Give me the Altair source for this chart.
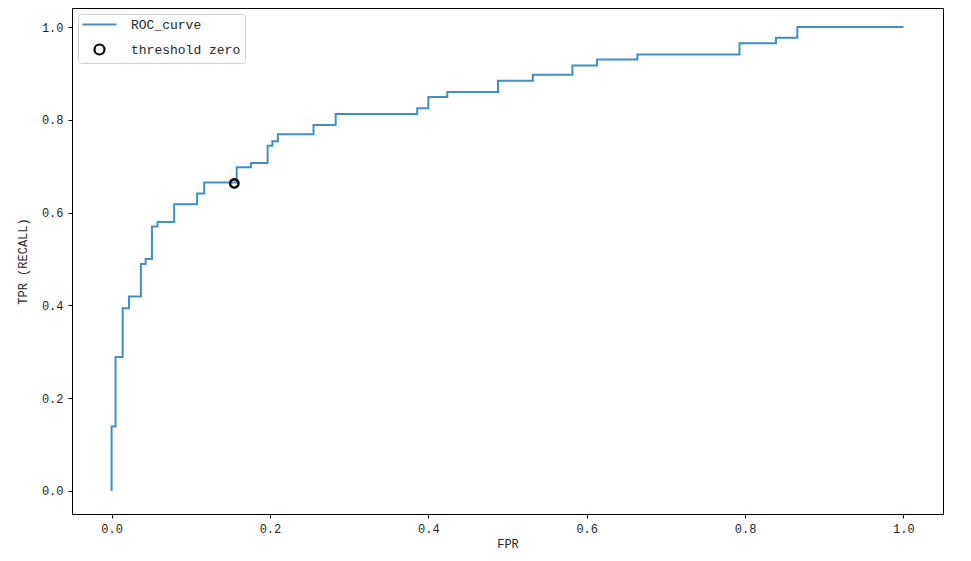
import altair as alt
import pandas as pd

# ROC curve breakpoints (fpr where the curve jumps, new tpr)
fpr_steps = [0.0, 0.0, 0.005, 0.014, 0.022, 0.037, 0.043, 0.051, 0.058, 0.079,
             0.108, 0.117, 0.158, 0.176, 0.197, 0.203, 0.210, 0.255, 0.283, 0.386,
             0.400, 0.424, 0.488, 0.532, 0.582, 0.613, 0.664, 0.793, 0.839, 0.866, 1.0]
tpr_steps = [0.0, 0.139, 0.289, 0.394, 0.419, 0.489, 0.500, 0.570, 0.580, 0.618,
             0.641, 0.665, 0.698, 0.707, 0.744, 0.754, 0.769, 0.789, 0.8125, 0.825,
             0.849, 0.860, 0.884, 0.897, 0.917, 0.930, 0.941, 0.965, 0.977, 1.0, 1.0]

thr_fpr = [0.155]
thr_tpr = [0.663]

series_names = ["ROC_curve", "threshold zero"]
x_ticks = [0.0, 0.2, 0.4, 0.6, 0.8, 1.0]
y_ticks = [0.0, 0.2, 0.4, 0.6, 0.8, 1.0]

roc = pd.DataFrame({"fpr": fpr_steps, "tpr": tpr_steps,
                    "series": series_names[0], "idx": list(range(len(fpr_steps)))})
thr = pd.DataFrame({"fpr": thr_fpr, "tpr": thr_tpr, "series": [series_names[1]]})

FONT = "Liberation Mono"
TXT = "#262626"

xscale = alt.Scale(domain=[-0.05, 1.05], nice=False, zero=False)
yscale = alt.Scale(domain=[-0.0496, 1.041], nice=False, zero=False)

xaxis = alt.Axis(title="FPR", values=x_ticks, format=".1f", grid=False, domain=False,
                 tickSize=4, tickColor="black", labelPadding=5, titlePadding=4)
yaxis = alt.Axis(title="TPR (RECALL)", values=y_ticks, format=".1f", grid=False, domain=False,
                 tickSize=4, tickColor="black", labelPadding=5, titlePadding=12)

color_scale = alt.Scale(domain=series_names, range=["#3f8fc9", "black"])
shape_scale = alt.Scale(domain=series_names, range=["M-3.4,0L3.4,0", "circle"])

legend = alt.Legend(title=None, orient="top-left", offset=6, padding=4,
                    strokeColor="#d0d0d0", fillColor="white", cornerRadius=3,
                    symbolSize=100, symbolStrokeWidth=2.2, symbolOffset=11, labelOffset=25,
                    labelFont=FONT, labelFontSize=13, labelColor=TXT, rowPadding=8)

line = alt.Chart(roc).mark_line(interpolate="step-after", strokeWidth=2).encode(
    x=alt.X("fpr:Q", scale=xscale, axis=xaxis),
    y=alt.Y("tpr:Q", scale=yscale, axis=yaxis),
    order="idx:Q",
    color=alt.Color("series:N", scale=color_scale, legend=legend),
)

pts = alt.Chart(thr).mark_point(filled=False, size=70, strokeWidth=2.5, opacity=1).encode(
    x=alt.X("fpr:Q", scale=xscale, axis=xaxis),
    y=alt.Y("tpr:Q", scale=yscale, axis=yaxis),
    color=alt.Color("series:N", scale=color_scale, legend=legend),
    shape=alt.Shape("series:N", scale=shape_scale, legend=legend),
)

chart = alt.layer(line, pts).properties(
    width=871, height=506,
    autosize=alt.AutoSizeParams(type="none"),
    padding={"left": 64, "top": 0, "right": 20, "bottom": 40},
    background="white",
).configure_view(stroke="black", strokeWidth=1).configure_axis(
    labelFont=FONT, labelFontSize=12, labelColor=TXT,
    titleFont=FONT, titleFontSize=12, titleColor=TXT, titleFontWeight="normal",
)

chart.save("out.html", embed_options={"renderer": "svg", "actions": False})
